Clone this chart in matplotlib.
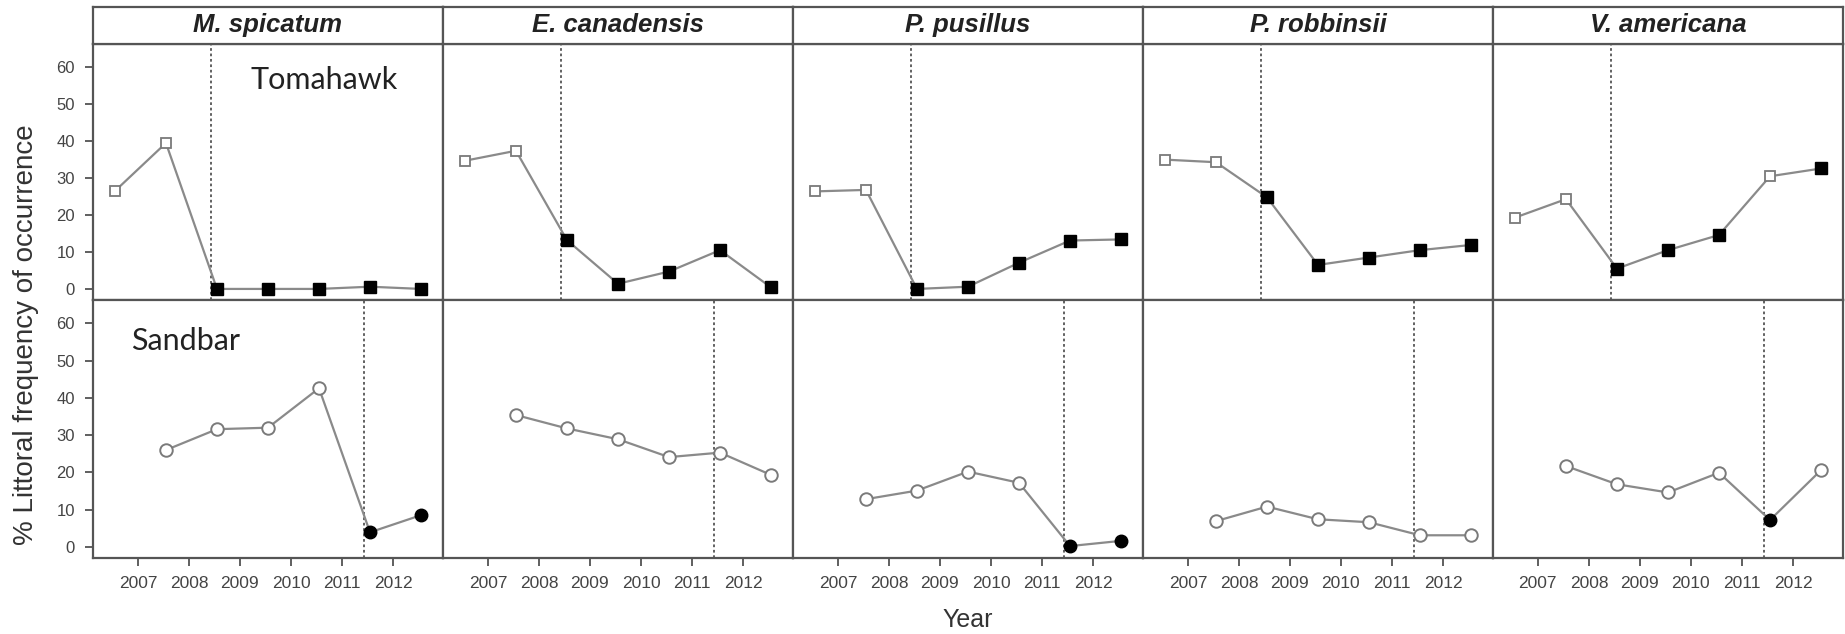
# -*- coding: utf-8 -*-
# Littoral frequency of occurrence of five macrophytes, Tomahawk vs Sandbar lake
import numpy as np
import matplotlib.pyplot as plt

################################################################################
### data
################################################################################
species = ['M. spicatum', 'E. canadensis', 'P. pusillus', 'P. robbinsii', 'V. americana']
lakes = ['Tomahawk', 'Sandbar']

years_tomahawk = [2006, 2007, 2008, 2009, 2010, 2011, 2012]
years_sandbar = [2007, 2008, 2009, 2010, 2011, 2012]

tomahawk = {
    'M. spicatum':   [26.5, 39.5, 0.0, 0.0, 0.0, 0.6, 0.0],
    'E. canadensis': [34.7, 37.4, 13.2, 1.4, 4.7, 10.5, 0.4],
    'P. pusillus':   [26.4, 26.8, 0.0, 0.6, 7.1, 13.1, 13.4],
    'P. robbinsii':  [35.0, 34.3, 24.8, 6.5, 8.5, 10.5, 11.9],
    'V. americana':  [19.3, 24.3, 5.5, 10.5, 14.6, 30.5, 32.6],
}
# 1 = filled symbol
tomahawk_filled = {
    'M. spicatum':   [0, 0, 1, 1, 1, 1, 1],
    'E. canadensis': [0, 0, 1, 1, 1, 1, 1],
    'P. pusillus':   [0, 0, 1, 1, 1, 1, 1],
    'P. robbinsii':  [0, 0, 1, 1, 1, 1, 1],
    'V. americana':  [0, 0, 1, 1, 1, 0, 1],
}

sandbar = {
    'M. spicatum':   [26.0, 31.6, 32.0, 42.6, 3.9, 8.5],
    'E. canadensis': [35.4, 31.8, 28.9, 24.1, 25.3, 19.3],
    'P. pusillus':   [12.8, 15.1, 20.2, 17.2, 0.2, 1.6],
    'P. robbinsii':  [6.9, 10.8, 7.4, 6.6, 3.1, 3.1],
    'V. americana':  [21.7, 16.8, 14.6, 19.9, 7.2, 20.6],
}
sandbar_filled = {
    'M. spicatum':   [0, 0, 0, 0, 1, 1],
    'E. canadensis': [0, 0, 0, 0, 0, 0],
    'P. pusillus':   [0, 0, 0, 0, 1, 1],
    'P. robbinsii':  [0, 0, 0, 0, 0, 0],
    'V. americana':  [0, 0, 0, 0, 1, 0],
}

# start of treatment (dotted line) per lake
treatment_start = {'Tomahawk': 2007.88, 'Sandbar': 2010.88}

tick_labels = [2007, 2008, 2009, 2010, 2011, 2012]
tick_pos = np.array(tick_labels) - 0.55

################################################################################
### plot
################################################################################
plt.rcParams['font.family'] = ['Liberation Sans', 'DejaVu Sans']

fig = plt.figure(figsize=(18.45, 6.34), dpi=100)
left, right = 0.0504, 0.9989
bot, mid, top, stripTop = 0.1199, 0.5268, 0.9306, 0.989
w = (right - left) / len(species)

lineCol = '#8a8a8a'
spineCol = '#555555'
tickCol = '#444444'

for j, sp in enumerate(species):
    for i, lake in enumerate(lakes):
        y0 = mid if i == 0 else bot
        ax = fig.add_axes([left + j*w, y0, w, mid - bot if i else top - mid])

        if lake == 'Tomahawk':
            x, y, f = years_tomahawk, tomahawk[sp], tomahawk_filled[sp]
            mk = 's'
        else:
            x, y, f = years_sandbar, sandbar[sp], sandbar_filled[sp]
            mk = 'o'
        x = np.array(x); y = np.array(y); f = np.array(f, dtype=bool)

        ax.axvline(treatment_start[lake], color='#555555', lw=1.3,
                   ls=(0, (1.5, 1.5)), zorder=1)
        ax.plot(x, y, '-', color=lineCol, lw=1.6, zorder=2)
        if mk == 's':
            ax.plot(x[~f], y[~f], 's', ms=6.5, mfc='white', mec='#7a7a7a',
                    mew=1.3, ls='none', zorder=3)
            ax.plot(x[f], y[f], 's', ms=8.5, mfc='black', mec='black',
                    ls='none', zorder=3)
        else:
            ax.plot(x[~f], y[~f], 'o', ms=9, mfc='white', mec='#7a7a7a',
                    mew=1.4, ls='none', zorder=3)
            ax.plot(x[f], y[f], 'o', ms=9, mfc='black', mec='black',
                    ls='none', zorder=3)

        ax.set_xlim(2005.57, 2012.43)
        ax.set_ylim(-3, 66.3)
        for s in ax.spines.values():
            s.set_color(spineCol)
            s.set_linewidth(1.6)

        ax.set_yticks([0, 10, 20, 30, 40, 50, 60])
        ax.set_xticks(tick_pos)
        ax.set_xticklabels([str(t) for t in tick_labels])
        ax.tick_params(colors=tickCol, labelcolor=tickCol, width=1.2,
                       length=6, labelsize=12)
        ax.tick_params(axis='y', pad=7)
        if j != 0:
            ax.tick_params(axis='y', left=False, labelleft=False)
        if i == 0:
            ax.tick_params(axis='x', bottom=False, labelbottom=False)
        else:
            ax.tick_params(axis='x', labelsize=12.5, pad=7)

        if j == 0:
            if lake == 'Tomahawk':
                ax.text(0.45, 0.86, 'Tomahawk', transform=ax.transAxes,
                        fontsize=22, family=['Lato', 'DejaVu Sans'],
                        color='#222222', va='center', ha='left')
            else:
                ax.text(0.11, 0.84, 'Sandbar', transform=ax.transAxes,
                        fontsize=22, family=['Lato', 'DejaVu Sans'],
                        color='#222222', va='center', ha='left')

    # strip header with species name
    sax = fig.add_axes([left + j*w, top, w, stripTop - top])
    sax.set_xticks([]); sax.set_yticks([])
    for s in sax.spines.values():
        s.set_color(spineCol)
        s.set_linewidth(1.6)
    sax.text(0.5, 0.5, sp, transform=sax.transAxes, ha='center', va='center',
             fontsize=18.5, fontweight='bold', fontstyle='italic', color='#222222')

fig.text(0.014, 0.472, '% Littoral frequency of occurrence',
         rotation=90, ha='center', va='center', fontsize=20, color='#333333')
fig.text(left + 2.5*w, 0.022, 'Year', ha='center', va='center',
         fontsize=18, color='#333333')

plt.savefig('out.png', dpi=100)
